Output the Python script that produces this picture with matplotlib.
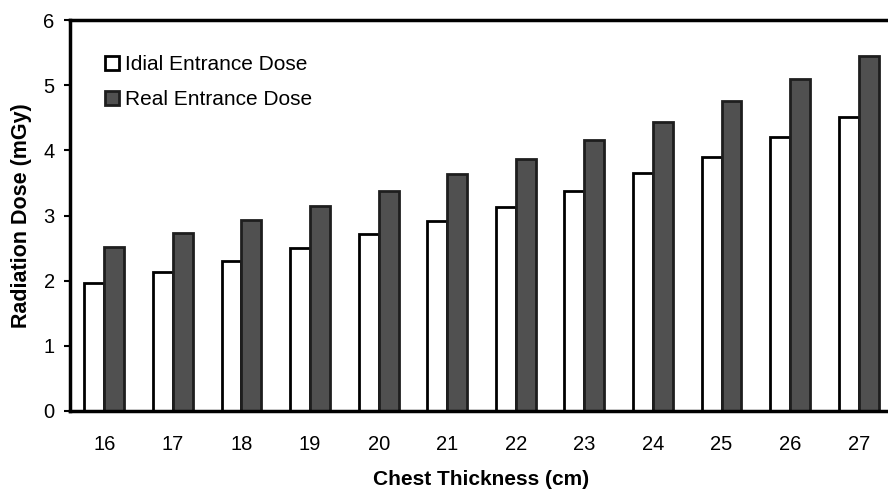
import matplotlib
matplotlib.use("Agg")
import matplotlib.pyplot as plt
import numpy as np

categories = ["16", "17", "18", "19", "20", "21", "22", "23", "24", "25", "26", "27"]
ideal_dose = [1.96, 2.13, 2.30, 2.50, 2.71, 2.91, 3.13, 3.37, 3.65, 3.90, 4.20, 4.51]
real_dose = [2.52, 2.73, 2.93, 3.14, 3.37, 3.63, 3.87, 4.16, 4.43, 4.75, 5.09, 5.44]
yticks = [0, 1, 2, 3, 4, 5, 6]

plt.rcParams['font.family'] = ['Liberation Sans', 'DejaVu Sans']

fig = plt.figure(figsize=(8.88, 4.91), dpi=100)
ax = fig.add_axes([70/888, 80/491, 823/888, 391/491])

x = np.arange(len(categories))
w = 0.29
ax.bar(x - w/2, ideal_dose, w, color='white', edgecolor='black', linewidth=2,
       label='Idial Entrance Dose')
ax.bar(x + w/2, real_dose, w, color='#505050', edgecolor='#1e1e1e', linewidth=2,
       label='Real Entrance Dose')

ax.set_xlim(-0.5, len(categories) - 0.5)
ax.set_ylim(0, 6)
ax.set_yticks(yticks)
ax.set_xticks(x)
ax.set_xticklabels(categories)
ax.tick_params(axis='x', length=0, pad=17, labelsize=14.5)
ax.tick_params(axis='y', length=4, width=1.5, pad=7, labelsize=14.5)

for s in ['left', 'top', 'bottom']:
    ax.spines[s].set_linewidth(2.5)
ax.spines['right'].set_visible(False)

ax.set_xlabel('Chest Thickness (cm)', fontsize=15, fontweight='bold', labelpad=12)
ax.set_ylabel('Radiation Dose (mGy)', fontsize=15.5, fontweight='bold', labelpad=8)

leg = ax.legend(loc='upper left', bbox_to_anchor=(0.0425, 0.91), frameon=False,
                borderpad=0, borderaxespad=0,
                fontsize=15, handlelength=0.67, handleheight=0.67, handletextpad=0.3,
                labelspacing=0.78)

fig.savefig('out.png', dpi=100)
